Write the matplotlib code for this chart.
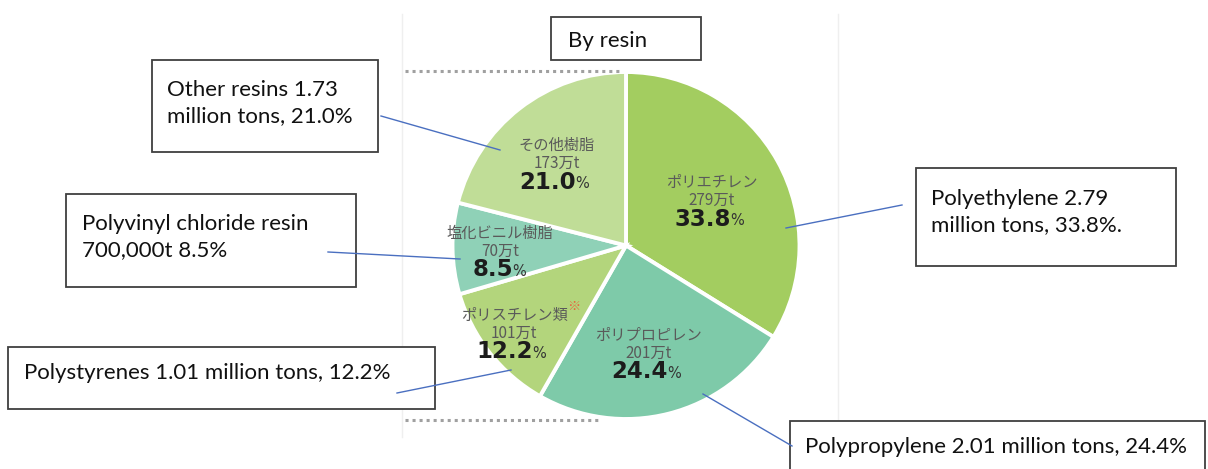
import matplotlib
matplotlib.use("Agg")
import matplotlib.pyplot as plt
from matplotlib.patches import Rectangle

W, H = 1208, 469

# data
names_jp = ["ポリエチレン", "ポリプロピレン", "ポリスチレン類", "塩化ビニル樹脂", "その他樹脂"]
amounts_jp = ["279万t", "201万t", "101万t", "70万t", "173万t"]
shares = [33.8, 24.4, 12.2, 8.5, 21.0]
colors = ["#a3cd60", "#7ecaa9", "#b3d57c", "#8fd1b7", "#c0dd97"]
callouts = [
    "Polyethylene 2.79\nmillion tons, 33.8%.",
    "Polypropylene 2.01 million tons, 24.4%",
    "Polystyrenes 1.01 million tons, 12.2%",
    "Polyvinyl chloride resin\n700,000t 8.5%",
    "Other resins 1.73\nmillion tons, 21.0%",
]
title = "By resin"

# layout (pixel coords, y down)
center = (626, 245.5)
radius = 173.5
label_pos = [(712, 182), (649, 335), (514, 315), (500, 233), (557, 145)]
boxes = [(916, 168, 260, 98), (790, 421, 415, 60), (8, 347, 427, 62),
         (66, 194, 290, 93), (152, 60, 226, 92)]
text_pos = [(931, 212), (805, 447), (24, 373), (82, 237), (167, 103)]
leaders = [((902, 205), (786, 228)), ((703, 394), (792, 446)),
           ((397, 393), (511, 370)), ((328, 252), (460, 259)),
           ((381, 116), (500, 150))]

fig = plt.figure(figsize=(W / 100, H / 100), dpi=100)
ax = fig.add_axes([0, 0, 1, 1])


def fy(py):
    return H - py


jp = ["Noto Sans CJK JP", "DejaVu Sans"]
en = "Lato"

# faint frame lines and dotted separators
ax.plot([402, 402], [fy(14), fy(437)], color="#efefef", lw=1)
ax.plot([838, 838], [fy(14), fy(437)], color="#efefef", lw=1)
ax.plot([405, 622], [fy(71), fy(71)], color="#a0a0a0", lw=2.2, ls=(0, (1, 1.3)))
ax.plot([405, 598], [fy(420), fy(420)], color="#a0a0a0", lw=2.2, ls=(0, (1, 1.3)))

ax.pie(shares, colors=colors, startangle=90, counterclock=False,
       center=(center[0], fy(center[1])), radius=radius, frame=True,
       wedgeprops=dict(edgecolor="white", linewidth=2.8))
ax.set_xlim(0, W)
ax.set_ylim(0, H)
ax.set_aspect("equal")
ax.axis("off")

for i in range(len(shares)):
    x, y = label_pos[i]
    ax.text(x, fy(y), names_jp[i], family=jp, fontsize=11, color="#5a5a5a",
            ha="center", va="center")
    ax.text(x, fy(y + 18), amounts_jp[i], family=jp, fontsize=11, color="#5a5a5a",
            ha="center", va="center")
    num = f"{shares[i]:.1f}"
    off = 19 if shares[i] >= 10 else 13
    ax.text(x + off, fy(y + 37), num, family="DejaVu Sans", fontweight="heavy",
            fontsize=16.5, color="#1c1c1c", ha="right", va="center")
    ax.text(x + off - 1, fy(y + 38), "%", family="DejaVu Sans", fontsize=10.5,
            color="#333333", ha="left", va="center")

# red mark next to polystyrene label
ax.text(574, fy(307), "※", family=jp, fontsize=9.5, color="#e8603c",
        ha="center", va="center")

# callout boxes, texts and leader lines
for i in range(len(shares)):
    bx, by, bw, bh = boxes[i]
    ax.add_patch(Rectangle((bx, fy(by + bh)), bw, bh, fill=True, facecolor="white",
                           edgecolor="#3f3f3f", lw=1.3, zorder=3))
    tx, ty = text_pos[i]
    ax.text(tx, fy(ty), callouts[i], family=en, fontsize=16, color="#111111",
            ha="left", va="center", linespacing=1.35, zorder=4)
    (x0, y0), (x1, y1) = leaders[i]
    ax.plot([x0, x1], [fy(y0), fy(y1)], color="#4a6fc0", lw=1, zorder=5)

ax.add_patch(Rectangle((551, fy(60)), 150, 43, facecolor="white",
                       edgecolor="#3f3f3f", lw=1.3, zorder=3))
ax.text(568, fy(41), title, family=en, fontsize=16, color="#111111",
        ha="left", va="center", zorder=4)

fig.savefig("out.png", dpi=100)
plt.close(fig)
